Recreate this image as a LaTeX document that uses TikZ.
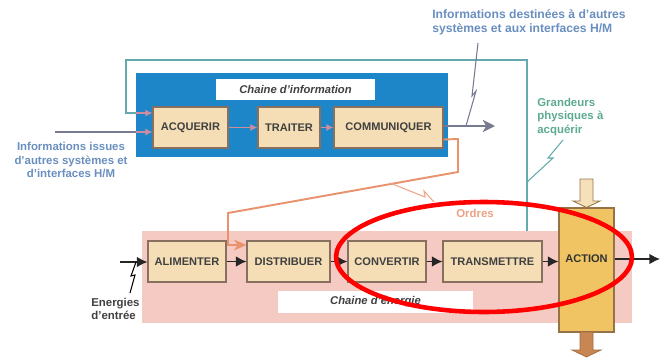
\documentclass[tikz,border=0pt]{standalone}
\usepackage{fontspec}
\setmainfont{Liberation Sans}
\usetikzlibrary{arrows.meta,calc}

\definecolor{bleuinfo}{RGB}{28,134,200}
\definecolor{beige}{RGB}{245,222,182}
\definecolor{bordbeige}{RGB}{135,112,95}
\definecolor{rosenrj}{RGB}{245,202,194}
\definecolor{jauneact}{RGB}{240,196,98}
\definecolor{bordact}{RGB}{150,115,70}
\definecolor{sarcelle}{RGB}{100,170,172}
\definecolor{grisfleche}{RGB}{120,122,145}
\definecolor{bleutexte}{RGB}{105,142,192}
\definecolor{vertexte}{RGB}{92,170,145}
\definecolor{orangeord}{RGB}{232,146,110}
\definecolor{rosefleche}{RGB}{205,140,160}
\definecolor{brunact}{RGB}{200,135,82}
\definecolor{clairact}{RGB}{246,224,186}

\begin{document}
\begin{tikzpicture}[x=0.02cm, y=-0.02cm, >={Latex[length=5pt,width=4.6pt]},
  fonction/.style={draw=bordbeige, fill=beige, line width=0.6pt, minimum height=0.82cm,
    inner sep=0pt, font=\fontsize{6.3}{7.5}\selectfont\bfseries, text=black!75},
  titre/.style={fill=white, inner sep=0pt, font=\fontsize{6.4}{8}\selectfont\bfseries\itshape, text=black!75},
  legende/.style={inner sep=0pt, font=\fontsize{6.5}{7.7}\selectfont\bfseries},
  flecheint/.style={->, rosefleche, line width=1pt, >={Latex[length=4pt,width=4pt]}},
  flechenrj/.style={->, black!85, line width=0.8pt, >={Latex[length=6pt,width=6pt]}},
  eclair/.style={line width=0.6pt}]

\useasboundingbox (0,0) rectangle (665,362);

% Chaine d'information
\node[fill=bleuinfo, minimum width=6.24cm, minimum height=1.68cm, inner sep=0pt] (infobox) at (292,115) {};
\node[titre, minimum width=3.18cm, minimum height=0.42cm] (infotitre) at (295.5,89.5) {Chaine d'information};
\node[fonction, minimum width=1.5cm] (acq) at (190.5,127.5) {ACQUERIR};
\node[fonction, minimum width=1.24cm] (trait) at (289,127.5) {TRAITER};
\node[fonction, minimum width=2.18cm] (comm) at (388.5,127.5) {COMMUNIQUER};

% Chaine d'energie
\node[fill=rosenrj, minimum width=9.8cm, minimum height=1.84cm, inner sep=0pt] (nrjbox) at (387,277) {};
\node[titre, minimum width=3.9cm, minimum height=0.44cm] (nrjtitre) at (375.5,302) {Chaine d'énergie};
\node[fonction, minimum width=1.56cm] (alim) at (187,261.5) {ALIMENTER};
\node[fonction, minimum width=1.66cm] (distr) at (288.5,261.5) {DISTRIBUER};
\node[fonction, minimum width=1.56cm] (conv) at (387,261.5) {CONVERTIR};
\node[fonction, minimum width=1.98cm] (trans) at (492.5,261.5) {TRANSMETTRE};

% Action
\node[draw=bordact, fill=jauneact, line width=0.6pt, minimum width=1.1cm, minimum height=2.48cm, inner sep=0pt] (action) at (586.5,270) {};
\node[font=\fontsize{6.3}{7.5}\selectfont\bfseries, text=black!80] (actlabel) at (586.5,259) {ACTION};
\draw[draw=bordact, fill=clairact, line width=0.5pt] (580,179) -- (593,179) -- (593,201) -- (600,201)
  -- (action.north) -- (573,201) -- (580,201) -- cycle;
\draw[draw=brunact!80!black, fill=brunact, line width=0.4pt] (580,332) -- (593,332) -- (593,350) -- (601,350)
  -- (586.5,357) -- (572,350) -- (580,350) -- cycle;

% Fleches internes
\coordinate (entreeinfo) at (infobox.west |- 0,132);
\coordinate (retourinfo) at (infobox.west |- 0,113);
\draw[grisfleche, line width=0.9pt] (55,132) -- (entreeinfo);
\draw[flecheint] (entreeinfo) -- (acq.west |- entreeinfo);
\draw[sarcelle, line width=0.9pt] (527,231) -- (527,60) -- (126,60) |- (retourinfo);
\draw[flecheint] (retourinfo) -- (acq.west |- retourinfo);
\draw[flecheint] (acq) -- (trait);
\draw[flecheint] (trait) -- (comm);

% Sortie information
\coordinate (sortieinfo) at (495,126);
\draw[->, grisfleche, line width=1.2pt, >={Stealth[length=7pt,width=7pt,inset=2pt]}] (comm.east |- sortieinfo) -- (sortieinfo);

% Ordres
\draw[->, orangeord, line width=1.1pt, >={Stealth[length=7pt,width=6pt,inset=2pt]}]
  ($(comm.east)+(0,12)$) -- (458,139) -- (458,172) -- (228,213) -- (228,245) -- (distr.west |- 0,245);

% Chaine d'energie fleches
\coordinate (entreenrj) at (120,262);
\coordinate (sortienrj) at (660,259);
\draw[flechenrj] (entreenrj) -- (alim.west |- entreenrj);
\draw[flechenrj] (alim) -- (distr);
\draw[flechenrj] (distr) -- (conv);
\draw[flechenrj] (conv) -- (trans);
\draw[flechenrj] (trans.east) -- (action.west |- trans.east);
\draw[flechenrj] (action.east |- sortienrj) -- (sortienrj);

% Legendes
\node[legende, text=bleutexte, align=center] (infoentree) at (71,160)
  {Informations issues\\d'autres systèmes et\\d'interfaces H/M};
\node[legende, text=bleutexte, align=left, anchor=west, font=\fontsize{6.9}{8}\selectfont\bfseries] (infosortie) at (432,22)
  {Informations destinées à d'autres\\systèmes et aux interfaces H/M};
\node[legende, text=vertexte, align=left, anchor=west] (grandeurs) at (537,117)
  {Grandeurs\\physiques à\\acquérir};
\node[legende, text=orangeord!85, anchor=west] (ordres) at (456,213) {Ordres};
\node[legende, text=black!75, align=left, anchor=west] (energies) at (91,309)
  {Energies\\d'entrée};

% Eclairs
\draw[eclair, grisfleche] (478,43) -- (472,96) -- (476,91) -- (466,126);
\draw[eclair, sarcelle] (563,140) -- (548,158) -- (553,158) -- (527,182);
\draw[eclair, orangeord!80] (390,183) -- (425,197) -- (424,191) -- (434,202);
\draw[eclair, black] (130,293) -- (135,275) -- (131,276) -- (136,262);

% Entourage
\draw[red, line width=2.6pt] (484,257) ellipse [x radius=2.96cm, y radius=1.1cm];

\end{tikzpicture}
\end{document}
